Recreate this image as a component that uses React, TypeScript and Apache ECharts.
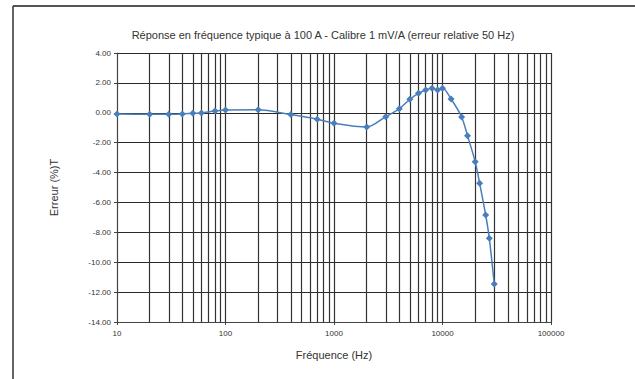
import React, { useEffect, useRef } from "react";
import * as echarts from "echarts";

const frequencies = [10, 20, 30, 40, 50, 60, 80, 100, 200, 400, 700, 1000, 2000, 3000, 4000, 5000, 6000, 7000, 8000, 9000, 10000, 12000, 15000, 17000, 20000, 22000, 25000, 27000, 30000];
const errors = [-0.08, -0.1, -0.1, -0.08, -0.03, -0.01, 0.12, 0.19, 0.2, -0.12, -0.43, -0.7, -0.95, -0.26, 0.27, 0.9, 1.3, 1.52, 1.64, 1.52, 1.64, 0.92, -0.28, -1.53, -3.27, -4.72, -6.84, -8.4, -11.46];
const minorGridFreqs = [20, 30, 40, 50, 60, 70, 80, 90, 200, 300, 400, 500, 600, 700, 800, 900, 2000, 3000, 4000, 5000, 6000, 7000, 8000, 9000, 20000, 30000, 40000, 50000, 60000, 70000, 80000, 90000];

const title = "Réponse en fréquence typique à 100 A - Calibre 1 mV/A (erreur relative 50 Hz)";
const yName = "Erreur (%)T";
const xName = "Fréquence (Hz)";
const FONT = "'Liberation Sans', Arial, sans-serif";

export default function App() {
  const ref = useRef<HTMLDivElement>(null);
  useEffect(() => {
    if (!ref.current) return;
    const chart = echarts.init(ref.current, undefined, { renderer: "svg" });
    chart.setOption({
      animation: false,
      backgroundColor: "#ffffff",
      title: {
        text: title,
        left: 318,
        textAlign: "center",
        top: 24,
        textStyle: { fontFamily: FONT, fontSize: 11, fontWeight: "normal", color: "#333" },
      },
      graphic: [
        { type: "line", shape: { x1: 13, y1: 6, x2: 635, y2: 6 }, style: { stroke: "#555", lineWidth: 2 } },
        { type: "line", shape: { x1: 13, y1: 6, x2: 13, y2: 379 }, style: { stroke: "#333", lineWidth: 1.5 } },
      ],
      grid: { left: 117, right: 84, top: 53, bottom: 57, containLabel: false },
      xAxis: {
        type: "log",
        logBase: 10,
        min: 10,
        max: 100000,
        name: xName,
        nameLocation: "middle",
        nameGap: 27,
        nameTextStyle: { fontFamily: FONT, fontSize: 11, color: "#333" },
        axisLine: { show: true, onZero: false, lineStyle: { color: "#444", width: 1 } },
        axisTick: { show: true, length: 3, lineStyle: { color: "#444" } },
        axisLabel: { fontFamily: FONT, fontSize: 8, color: "#333", margin: 7, formatter: (v: number) => String(Math.round(v)) },
        splitLine: { show: true, lineStyle: { color: "#333", width: 1.2 } },
      },
      yAxis: {
        type: "value",
        min: -14,
        max: 4,
        interval: 2,
        name: yName,
        nameLocation: "middle",
        nameGap: 58,
        nameTextStyle: { fontFamily: FONT, fontSize: 11, color: "#333" },
        axisLine: { show: true, lineStyle: { color: "#444", width: 1 } },
        axisTick: { show: true, length: 3, lineStyle: { color: "#444" } },
        axisLabel: {
          fontFamily: FONT,
          fontSize: 8,
          color: "#333",
          margin: 6,
          formatter: (v: number) => v.toFixed(2),
        },
        splitLine: { show: true, lineStyle: { color: "#2a2a2a", width: 1.2 } },
      },
      series: [
        {
          type: "line",
          data: frequencies.map((f, i) => [f, errors[i]]),
          smooth: 0.3,
          symbol: "diamond",
          symbolSize: 7,
          itemStyle: { color: "#4a7ebb" },
          lineStyle: { color: "#4a7ebb", width: 1.5 },
          z: 5,
          markLine: {
            silent: true,
            symbol: ["none", "none"],
            label: { show: false },
            lineStyle: { color: "#333", type: "solid", width: 1.2 },
            data: minorGridFreqs.map((f) => ({ xAxis: f })),
            z: 1,
          },
        },
      ],
    });
    return () => chart.dispose();
  }, []);
  return <div ref={ref} style={{ position: "fixed", left: 0, top: 0, width: 635, height: 379 }} />;
}
